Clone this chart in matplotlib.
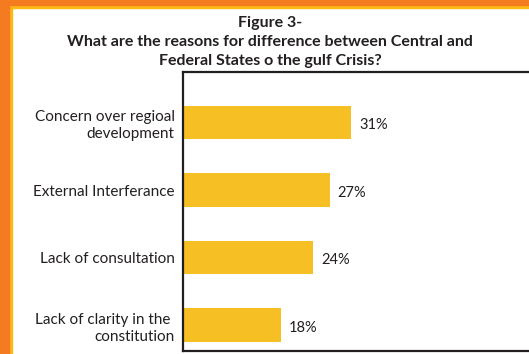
import matplotlib.pyplot as plt
from matplotlib.patches import Rectangle

# veriler
categories = ["Concern over regioal\ndevelopment", "External Interferance",
              "Lack of consultation", "Lack of clarity in the \nconstitution"]
values = [31, 27, 24, 18]
value_labels = ["31%", "27%", "24%", "18%"]

title = ("Figure 3-\nWhat are the reasons for difference between Central and\n"
         "Federal States o the gulf Crisis?")

dark = "#231f20"
bar_color = "#F6BF23"

plt.rcParams['font.family'] = ['Lato', 'DejaVu Sans']

fig = plt.figure(figsize=(5.29, 3.54), dpi=100)
W, H = 529, 354

# turuncu çerçeve (sol ve üst)
fig.patches.append(Rectangle((0, 0), 12 / W, 1, transform=fig.transFigure,
                             color="#FDB913", zorder=0))
fig.patches.append(Rectangle((0, 1 - 8 / H), 1, 8 / H, transform=fig.transFigure,
                             color="#FDB913", zorder=0))
fig.patches.append(Rectangle((0, 0), 9 / W, 1, transform=fig.transFigure,
                             color="#F47B20", zorder=1))
fig.patches.append(Rectangle((0, 1 - 5 / H), 1, 5 / H, transform=fig.transFigure,
                             color="#F47B20", zorder=1))

ax = fig.add_axes([183 / W, 3 / H, (545 - 183) / W, (282 - 3) / H])

y = list(range(len(categories)))
ax.barh(y, values, height=0.5, color=bar_color)

for yi, v, lab in zip(y, values, value_labels):
    ax.text(v + 1.4, yi + 0.04, lab, va="center", ha="left", fontsize=10.5, color=dark)

ax.set_yticks(y)
ax.set_yticklabels(categories, fontsize=11, color=dark, linespacing=1.3)
ax.tick_params(axis="y", length=0, pad=6)
ax.set_xticks([])
ax.set_ylim(3.385, -0.75)
ax.set_xlim(0, (545 - 184) / 5.42)

for s in ax.spines.values():
    s.set_color(dark)
    s.set_linewidth(1.6)

fig.text(270 / W, 1 - 16 / H, title, ha="center", va="top", fontsize=11.5,
         fontweight="bold", color=dark, linespacing=1.45)

fig.savefig("out.png", dpi=100)
